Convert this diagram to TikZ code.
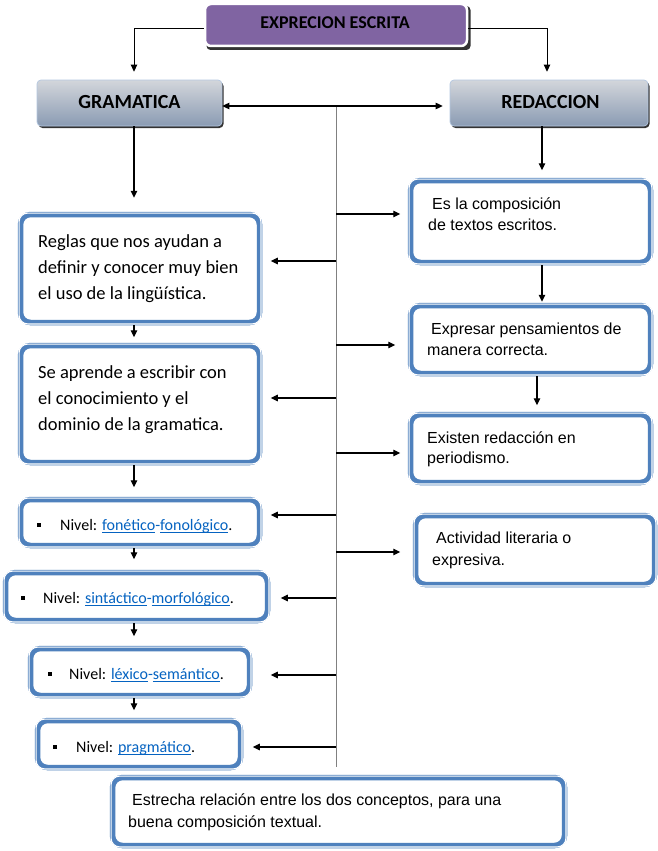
\documentclass[tikz,border=0pt]{standalone}
\usepackage{fontspec}
\setmainfont{Carlito}
\newfontfamily\arialf{Liberation Sans}
\usetikzlibrary{arrows.meta}
\definecolor{boxblue}{HTML}{4F81BD}
\definecolor{purp}{HTML}{8064A2}
\definecolor{gtop}{HTML}{D3D6DB}
\definecolor{gbot}{HTML}{8A9BB3}
\definecolor{gline}{HTML}{B4C7E0}
\definecolor{linkblue}{HTML}{0563C1}
\definecolor{vgray}{HTML}{808080}
\newlength\ulw
\newcommand\ulink[1]{\settowidth\ulw{#1}\textcolor{linkblue}{\rlap{\rule[-2.4pt]{\ulw}{0.9pt}}#1}}
\newcommand\sqbul{\rule[3.5pt]{3.5pt}{3.5pt}}
\begin{document}
\begin{tikzpicture}[x=1pt,y=-1pt,
 bx/.style={draw=boxblue, line width=5.5pt, rounded corners=10pt, fill=white, inner sep=0pt},
 bxin/.style={draw=white, line width=1.1pt, rounded corners=8.7pt},
 hd/.style={top color=gtop, bottom color=gbot, draw=gline, line width=0.7pt, rounded corners=4pt, inner sep=0pt},
 shd/.style={fill=black!80, rounded corners=4pt, inner sep=0pt},
 ltxt/.style={font=\fontsize{18.5}{26}\selectfont, anchor=base west, inner sep=0pt},
 ntxt/.style={font=\fontsize{16}{20}\selectfont, anchor=base west, inner sep=0pt},
 rtxt/.style={font=\arialf\fontsize{16}{21}\selectfont, anchor=base west, inner sep=0pt},
 htxt/.style={font=\bfseries\fontsize{20}{24}\selectfont, inner sep=0pt, anchor=base},
 arr/.style={draw=black, line width=1.1pt, -{Triangle[length=7pt,width=6.5pt]}},
]
\fill[white] (0,0) rectangle (658,851);
\useasboundingbox (0,0) rectangle (658,851);

% top box
\node[shd, minimum width=264, minimum height=44] (topsh) at (338.5,28) {};
\node[fill=purp, draw=white, line width=2.5pt, rounded corners=6pt, minimum width=262, minimum height=42, inner sep=0pt] (top) at (336,25) {};
\node[font=\bfseries\fontsize{18}{20}\selectfont, anchor=base, inner sep=0pt] (toptx) at (335,29) {EXPRECION ESCRITA};

% heading boxes
\node[shd, minimum width=185, minimum height=46] (gsh) at (131,105) {};
\node[hd, minimum width=185, minimum height=46] (gram) at (129.5,103) {};
\node[htxt] (gt) at (129.5,108) {GRAMATICA};
\node[shd, minimum width=198, minimum height=46] (rsh) at (550.5,105) {};
\node[hd, minimum width=198, minimum height=46] (red) at (549,103) {};
\node[htxt] (rt) at (550.5,108) {REDACCION};

% left boxes
\node[bx, minimum width=239, minimum height=108] (reglas) at (140,268.5) {};
\node[bx, minimum width=239, minimum height=117] (seap) at (140,404) {};
\node[bx, minimum width=239, minimum height=46] (n1) at (140,522.5) {};
\node[bx, minimum width=262, minimum height=48] (n2) at (136.5,596.5) {};
\node[bx, minimum width=219, minimum height=47] (n3) at (140,672) {};
\node[bx, minimum width=203, minimum height=47] (n4) at (139,744) {};

% right boxes
\node[bx, minimum width=240, minimum height=82] (r1) at (530.5,221.5) {};
\node[bx, minimum width=240, minimum height=68] (r2) at (530.5,339.5) {};
\node[bx, minimum width=240, minimum height=68] (r3) at (530.5,448.5) {};
\node[bx, minimum width=239, minimum height=69] (r4) at (535,550) {};
\node[bx, minimum width=452, minimum height=68] (bot) at (338.5,811.5) {};

\foreach \b in {reglas,seap,n1,n2,n3,n4,r1,r2,r3,r4,bot}
  \draw[bxin] ([xshift=1.3pt,yshift=-1.3pt]\b.north west) rectangle ([xshift=-1.3pt,yshift=1.3pt]\b.south east);

% texts
\node[ltxt] (t1a) at (38,247) {Reglas que nos ayudan a};
\node[ltxt] (t1b) at (38,273) {definir y conocer muy bien};
\node[ltxt] (t1c) at (38,299) {el uso de la lingüística.};
\node[ltxt] (t2a) at (38,378) {Se aprende a escribir con};
\node[ltxt] (t2b) at (38,404) {el conocimiento y el};
\node[ltxt] (t2c) at (38,430) {dominio de la gramatica.};
\node[ntxt] (tn1) at (37,530) {\sqbul\hspace{19.5pt}Nivel: \ulink{fonético}\textcolor{linkblue}{-}\ulink{fonológico}.};
\node[ntxt] (tn2) at (21,603) {\sqbul\hspace{18.5pt}Nivel: \ulink{sintáctico}\textcolor{linkblue}{-}\ulink{morfológico}.};
\node[ntxt] (tn3) at (48,679) {\sqbul\hspace{17.5pt}Nivel: \ulink{léxico}\textcolor{linkblue}{-}\ulink{semántico}.};
\node[ntxt] (tn4) at (53,752) {\sqbul\hspace{19.5pt}Nivel: \ulink{pragmático}.};
\node[rtxt] (tr1a) at (432,209) {Es la composición};
\node[rtxt] (tr1b) at (428,230) {de textos escritos.};
\node[rtxt] (tr2a) at (431,334) {Expresar pensamientos de};
\node[rtxt] (tr2b) at (427,355) {manera correcta.};
\node[rtxt] (tr3a) at (427,443) {Existen redacción en};
\node[rtxt] (tr3b) at (427,463) {periodismo.};
\node[rtxt] (tr4a) at (436,543) {Actividad literaria o};
\node[rtxt] (tr4b) at (432,565) {expresiva.};
\node[rtxt] (tba) at (132,805) {Estrecha relación entre los dos conceptos, para una};
\node[rtxt] (tbb) at (128,827) {buena composición textual.};

% helper coordinates
\coordinate (colG) at (134,0);
\coordinate (colR) at (547,0);
\coordinate (colR2) at (542,0);
\coordinate (colR3) at (537,0);
\coordinate (vt) at (336,106);
\coordinate (vb) at (336,767);
\coordinate (h1) at (336,261);
\coordinate (h2) at (336,398);
\coordinate (h3) at (336,515);
\coordinate (h4) at (336,598);
\coordinate (h5) at (336,675);
\coordinate (h6) at (336,747);
\coordinate (g1) at (336,214);
\coordinate (g2) at (336,345);
\coordinate (g3) at (336,453);
\coordinate (g4) at (336,552);

% connectors
\draw[vgray, line width=1pt] (vt) -- (vb);
\draw[arr, line width=0.9pt, shorten >=8pt] ([yshift=-3pt]top.west) -| (colG |- gram.north);
\draw[arr, line width=0.9pt, shorten >=8pt] ([yshift=-3pt]top.east) -| (colR |- red.north);
\draw[line width=1.1pt, {Triangle[length=7pt,width=6.5pt]}-{Triangle[length=7pt,width=6.5pt]}, shorten >=7pt] ([yshift=-3pt]gram.east) -- ([yshift=-3pt]gram.east -| red.west);
\draw[arr, shorten >=14pt] (colG |- gram.south) -- (colG |- reglas.north);
\draw[arr, shorten >=7.5pt] (colR2 |- red.south) -- (colR2 |- r1.north);
\draw[arr, shorten >=1pt] (colR2 |- r1.south) -- (colR2 |- r2.north);
\draw[arr, shorten >=6.5pt] (colR3 |- r2.south) -- (colR3 |- r3.north);
\draw[arr, shorten >=5.5pt] (colG |- reglas.south) -- (colG |- seap.north);
\draw[arr, shorten >=9.5pt] (colG |- seap.south) -- (colG |- n1.north);
\draw[arr, shorten >=10.5pt] (colG |- n1.south) -- (colG |- n2.north);
\draw[arr, shorten >=9.5pt] (colG |- n2.south) -- (colG |- n3.north);
\draw[arr, shorten >=7.5pt] (colG |- n3.south) -- (colG |- n4.north);
\draw[arr, shorten >=8.5pt] (h1) -- (h1 -| reglas.east);
\draw[arr, shorten >=8.5pt] (h2) -- (h2 -| seap.east);
\draw[arr, shorten >=8.5pt] (h3) -- (h3 -| n1.east);
\draw[arr, shorten >=10.5pt] (h4) -- (h4 -| n2.east);
\draw[arr, shorten >=18.5pt] (h5) -- (h5 -| n3.east);
\draw[arr, shorten >=9.5pt] (h6) -- (h6 -| n4.east);
\draw[arr, shorten >=7.5pt] (g1) -- (g1 -| r1.west);
\draw[arr, shorten >=12.5pt] (g2) -- (g2 -| r2.west);
\draw[arr, shorten >=7.5pt] (g3) -- (g3 -| r3.west);
\draw[arr, shorten >=12.5pt] (g4) -- (g4 -| r4.west);
\end{tikzpicture}
\end{document}
